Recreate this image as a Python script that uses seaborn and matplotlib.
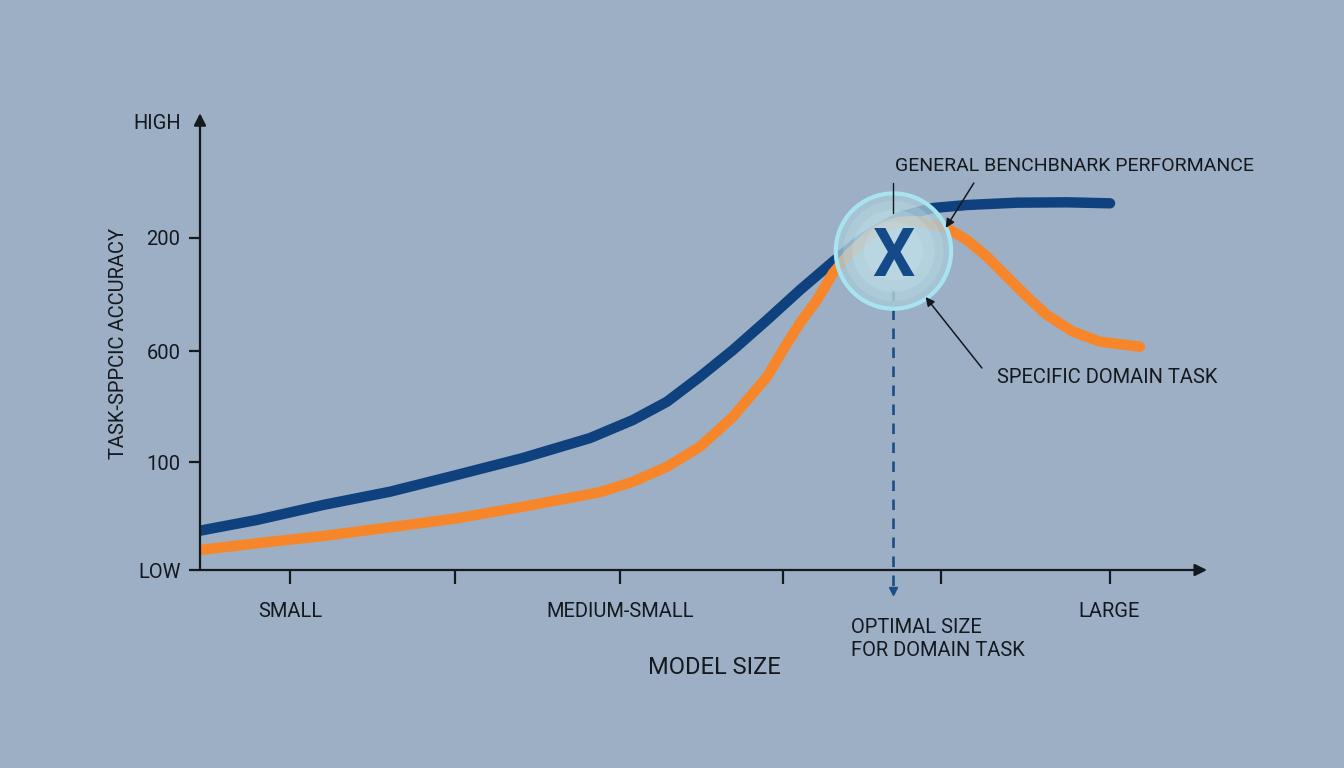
import numpy as np
import pandas as pd
import matplotlib.pyplot as plt
import seaborn as sns

# model size on a 0-100 scale, accuracy on a 0-100 scale
general_x = [0.0, 5.64, 12.24, 18.91, 25.54, 32.14, 38.81, 43.08, 46.47, 49.75, 53.03,
             56.42, 59.70, 62.99, 65.67, 67.66, 69.65, 72.94, 76.32, 81.29, 86.27, 90.55]
general_y = [8.64, 10.99, 14.29, 17.21, 20.88, 24.62, 29.00, 32.97, 36.99, 42.48, 48.35,
             54.95, 61.54, 67.76, 72.53, 75.16, 77.65, 79.56, 80.22, 80.73, 80.81, 80.59]

domain_x = [0.0, 5.64, 12.24, 18.91, 25.54, 32.14, 39.80, 43.08, 46.47, 49.75, 53.03,
            56.42, 58.01, 59.70, 61.39, 62.99, 64.68, 66.67, 68.16, 69.65, 71.14, 72.64,
            74.33, 76.32, 78.31, 80.30, 82.29, 84.28, 86.87, 89.55, 93.53]
domain_y = [4.40, 5.87, 7.47, 9.38, 11.36, 13.91, 17.10, 19.41, 22.70, 27.10, 33.69,
            42.48, 48.35, 54.29, 59.34, 65.27, 69.67, 73.63, 75.60, 76.48, 76.70, 76.04,
            75.16, 72.53, 68.86, 64.46, 60.07, 56.04, 52.37, 50.18, 49.08]

x_ticks = [9.0, 25.4, 41.8, 58.0, 73.7, 90.5]
x_labels = ['SMALL', '', 'MEDIUM-SMALL', '', '', 'LARGE']
y_ticks = [0, 23.7, 48.1, 73.0, 98.5]
y_labels = ['LOW', '100', '600', '200', 'HIGH']

optimal_x = 69.0
optimal_y = 70.1

BG = '#9dafc4'
BLUE = '#0e417d'
ORANGE = '#f7862a'
INK = '#14181f'

df = pd.concat([
    pd.DataFrame({'size': general_x, 'acc': general_y, 'series': 'general'}),
    pd.DataFrame({'size': domain_x, 'acc': domain_y, 'series': 'domain'}),
])

sns.set_theme(style='white')
plt.rcParams['font.family'] = ['Roboto', 'DejaVu Sans']

fig = plt.figure(figsize=(13.44, 7.68), dpi=100)
fig.patch.set_facecolor(BG)
ax = fig.add_axes([200 / 1344, 198 / 768, 1005 / 1344, 455 / 768])
ax.set_facecolor(BG)

sns.lineplot(data=df, x='size', y='acc', hue='series', estimator=None, sort=False,
             palette={'general': BLUE, 'domain': ORANGE}, linewidth=7.5,
             solid_capstyle='round', solid_joinstyle='round', legend=False, ax=ax)
ax.set_xlabel('')
ax.set_ylabel('')

ax.set_xlim(0, 100)
ax.set_ylim(0, 100)
for s in ax.spines.values():
    s.set_visible(False)

# axis arrows
arrow_kw = dict(arrowstyle='-|>', color=INK, lw=1.6, mutation_scale=18, shrinkA=0, shrinkB=0)
ax.annotate('', xy=(1.002, 0), xytext=(0, 0), xycoords='axes fraction', arrowprops=arrow_kw)
ax.annotate('', xy=(0, 1.004), xytext=(0, 0), xycoords='axes fraction', arrowprops=arrow_kw)

ax.set_xticks(x_ticks)
ax.set_xticklabels(x_labels)
ax.set_yticks(y_ticks)
ax.set_yticklabels(y_labels)
ax.tick_params(axis='x', length=10, width=1.6, color=INK, pad=13, labelsize=14.5, labelcolor=INK, direction='out', bottom=True)
ax.tick_params(axis='y', length=8, width=1.6, color=INK, pad=6, labelsize=14.5, labelcolor=INK, direction='out', left=True)
ax.yaxis.get_major_ticks()[-1].tick1line.set_visible(False)

ax.text(0.512, -0.215, 'MODEL SIZE', transform=ax.transAxes, ha='center', va='center',
        fontsize=17, color=INK)
ax.text(-0.081, 0.497, 'TASK-SPPCIC ACCURACY', transform=ax.transAxes, ha='center', va='center',
        rotation=90, fontsize=14.5, color=INK)

# optimal point marker
ax.plot([optimal_x, optimal_x], [61.5, -4.0], color='#1b4d86', lw=1.9, dashes=(4, 3.2), clip_on=False, zorder=4)
ax.plot([optimal_x], [-4.6], marker='v', color='#1b4d86', markersize=6, clip_on=False, zorder=4)

ax.scatter([optimal_x], [optimal_y], s=6900, facecolor='#a9cad8', edgecolor='none', alpha=0.75, zorder=5)
for s, a in [(5200, 0.25), (3500, 0.3), (1800, 0.3)]:
    ax.scatter([optimal_x], [optimal_y], s=s, facecolor='#c6e2ec', edgecolor='none', alpha=a, zorder=5)
ax.scatter([optimal_x], [optimal_y], s=6900, facecolor='none', edgecolor='#a8e4f0', linewidth=3, zorder=6)
ax.text(optimal_x, optimal_y, 'X', ha='center', va='center_baseline', fontsize=48,
        fontweight='bold', color='#154a88', zorder=7)
ax.plot([optimal_x, optimal_x], [85.05, 78.5], color=INK, lw=1.0, zorder=7)

# annotations
ax.text(69.15, 88.8, 'GENERAL BENCHBNARK PERFORMANCE', ha='left', va='center', fontsize=14, color=INK)
ax.annotate('', xy=(74.2, 75.2), xytext=(77.0, 85.05),
            arrowprops=dict(arrowstyle='-|>', color=INK, lw=1.1, mutation_scale=13, shrinkA=0, shrinkB=0), zorder=8)
ax.text(79.3, 42.2, 'SPECIFIC DOMAIN TASK', ha='left', va='center', fontsize=14.5, color=INK)
ax.annotate('', xy=(72.2, 60.0), xytext=(77.8, 44.4),
            arrowprops=dict(arrowstyle='-|>', color=INK, lw=1.1, mutation_scale=13, shrinkA=0, shrinkB=0), zorder=8)
ax.text(64.8, -10.5, 'OPTIMAL SIZE\nFOR DOMAIN TASK', ha='left', va='top', fontsize=14.5,
        color=INK, linespacing=1.3)

fig.savefig('out.png', dpi=100, facecolor=BG)
